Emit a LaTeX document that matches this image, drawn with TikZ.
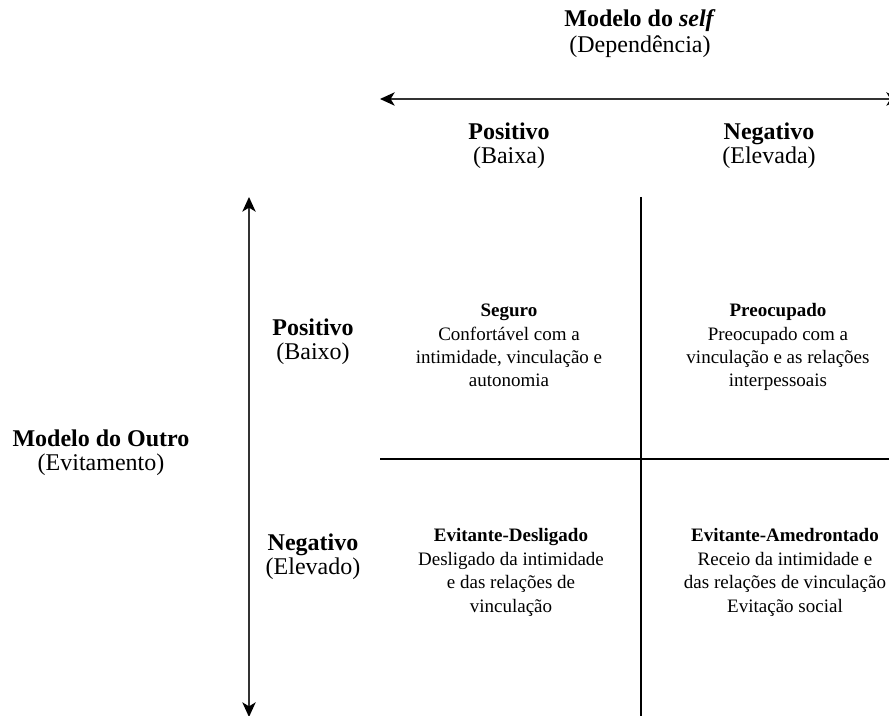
\documentclass[tikz,border=0pt]{standalone}
\usepackage{fontspec}
\setmainfont{Liberation Serif}
\usetikzlibrary{arrows.meta}
\begin{document}
\begin{tikzpicture}[x=0.75pt,y=-0.75pt,
  head/.style={align=center,anchor=base,inner sep=0pt,font=\fontsize{18}{18}\selectfont},
  quad/.style={align=center,anchor=base,inner sep=0pt,font=\fontsize{14.25}{17.6}\selectfont},
  tip/.tip={Stealth[length=11pt,width=10pt,inset=3pt,color=black]},
  axis/.style={line width=1pt,draw=black!80,tip-tip},
  divider/.style={line width=1.2pt,draw=black}]
\useasboundingbox (0,0) rectangle (889,716);
% axes
\coordinate (hL) at (380,99);
\coordinate (hR) at (901,99);
\coordinate (vT) at (249,197);
\coordinate (vB) at (249,717);
\draw[axis] (hL) -- (hR);
\draw[axis] (vT) -- (vB);
% dividers
\coordinate (dT) at (641,197);
\coordinate (dB) at (641,717);
\coordinate (dL) at (380,459);
\coordinate (dR) at (890,459);
\draw[divider] (dT) -- (dB);
\draw[divider] (dL) -- (dR);
% headers (anchor = baseline of last line)
\node[head,font=\fontsize{18}{19.5}\selectfont] (self) at (640,53) {\textbf{Modelo do \textit{self}}\\(Dependência)};
\node[head] (pos) at (509,164) {\textbf{Positivo}\\(Baixa)};
\node[head] (neg) at (769,164) {\textbf{Negativo}\\(Elevada)};
\node[head] (outro) at (101,470) {\textbf{Modelo do Outro}\\(Evitamento)};
\node[head] (posL) at (313,360) {\textbf{Positivo}\\(Baixo)};
\node[head] (negL) at (313,574) {\textbf{Negativo}\\(Elevado)};
% quadrants
\node[quad] (seg) at (509,387) {\textbf{Seguro}\\Confortável com a\\intimidade, vinculação e\\autonomia};
\node[quad] (pre) at (778,387) {\textbf{Preocupado}\\Preocupado com a\\vinculação e as relações\\interpessoais};
\node[quad] (des) at (511,612) {\textbf{Evitante-Desligado}\\Desligado da intimidade\\e das relações de\\vinculação};
\node[quad] (ame) at (785,612) {\textbf{Evitante-Amedrontado}\\Receio da intimidade e\\das relações de vinculação\\Evitação social};
\end{tikzpicture}
\end{document}
